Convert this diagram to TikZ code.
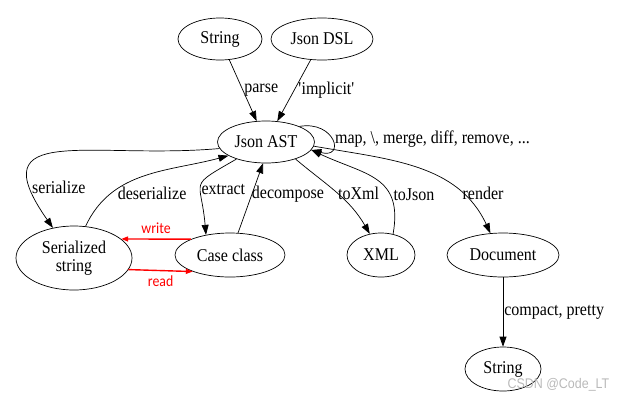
\documentclass[tikz,border=0pt]{standalone}
\usepackage{fontspec}
\setmainfont{Liberation Serif}[FakeStretch=0.89]
\newfontfamily\notefont{Carlito}[FakeStretch=0.89]
\newfontfamily\markfont{Liberation Sans}[FakeStretch=0.89]
\usetikzlibrary{arrows.meta,positioning,shapes.geometric}

\begin{document}
\begin{tikzpicture}[
    x=1pt, y=1pt,
    state/.style={draw, ellipse, inner sep=0pt, align=center},
    lbl/.style={anchor=west, inner sep=1pt},
    note/.style={red, font=\notefont\fontsize{15.5}{17}\selectfont},
    ->, >={Triangle[length=10pt,width=7pt]}, line width=0.7pt,
    font=\fontsize{18}{18}\selectfont, node distance=1cm, on grid
]

\path[use as bounding box] (0,0) rectangle (623,-402);

% Nodes
\node[state, minimum width=97pt, minimum height=42pt] (ast) at (266,-142) {Json AST};
\node[state, minimum width=84pt, minimum height=42pt, above left=103pt and 46pt of ast] (string) {String};
\node[state, minimum width=102pt, minimum height=42pt, above right=103pt and 56pt of ast] (dsl) {Json DSL};
\node[state, minimum width=116pt, minimum height=64pt, below left=116pt and 192pt of ast] (ser) {Serialized\\string};
\node[state, minimum width=110pt, minimum height=44pt, below left=113pt and 36pt of ast] (case) {Case class};
\node[state, minimum width=68pt, minimum height=44pt, below right=113pt and 115pt of ast] (xml) {XML};
\node[state, minimum width=112pt, minimum height=44pt, below right=113pt and 237pt of ast] (doc) {Document};
\node[state, minimum width=76pt, minimum height=44pt, below=114pt of doc] (out) {String};
\node[anchor=east, gray!55, font=\markfont\fontsize{14}{15}\selectfont] (mark) at (613,-385) {CSDN @Code\_LT};

% Edges into and around the AST
\draw (string) -- node[lbl] {parse} (ast);
\draw (dsl) -- node[lbl, xshift=3pt] {\textquotesingle implicit\textquotesingle} (ast);
\draw (ast.25) to[out=10,in=-15,looseness=3.5] node[lbl, xshift=2pt] {map, \textbackslash, merge, diff, remove, ...} (ast.-10);

% Edges to the lower row
\draw (ast.188) to[out=185,in=125,looseness=1.8] node[lbl,pos=.84] {serialize} (ser.125);
\draw (ser.70) to[out=65,in=195] node[lbl,pos=.25,xshift=6pt] {deserialize} (ast.200);
\draw (ast.210) to[out=210,in=95,looseness=1.8] node[lbl,pos=.57] {extract} (case.140);
\draw (case.70) -- node[lbl,yshift=4pt] {decompose} (ast.262);
\draw (ast.-30) to[out=-40,in=120] node[lbl] {toXml} (xml.118);
\draw (xml.60) to[out=80,in=-25,looseness=1.3] node[lbl,pos=.3,xshift=2pt] {toJson} (ast.-10);
\draw (ast.-5) to[out=-10,in=115] node[lbl,pos=.76] {render} (doc.120);
\draw (doc) -- node[lbl] {compact, pretty} (out);

% Red arrows between serialized string and case class
\draw[red, line width=1.4pt, -{Triangle[length=7pt,width=5pt]}] (case.158) -- node[note, above=1pt] {write} (ser.22);
\draw[red, line width=1.4pt, -{Triangle[length=7pt,width=5pt]}] (ser.-12) -- node[note, below=1pt] {read} (case.204);

\end{tikzpicture}
\end{document}
